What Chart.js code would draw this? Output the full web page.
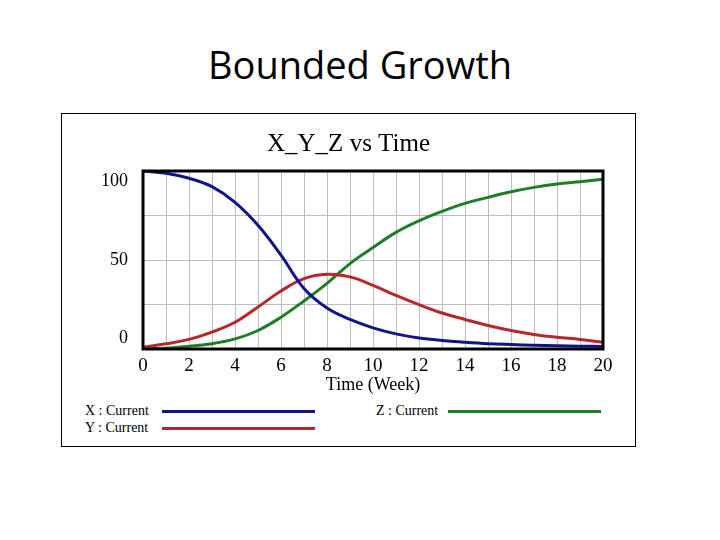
<!DOCTYPE html>
<html><head><meta charset="utf-8">
<script src="https://cdn.jsdelivr.net/npm/chart.js@4"></script>
<style>
body{margin:0;width:720px;height:540px;background:#fff;position:relative;overflow:hidden}
#slideTitle{position:absolute;left:0;top:45px;width:720px;text-align:center;font:38px/38px "Open Sans",sans-serif;color:#000}
#frame{position:absolute;left:61px;top:113px;width:575px;height:334px;border:1px solid #000;box-sizing:border-box}
#c{position:absolute;left:0;top:0}
.lg{position:absolute;font:14px/14px "Liberation Serif",serif;color:#000;white-space:nowrap}
.lgline{position:absolute;height:3px}
</style></head>
<body>
<div id="slideTitle">Bounded Growth</div>
<div id="frame"><canvas id="c" width="573" height="284"></canvas><div id="legend"></div></div>
<script>
// values
const times=[0,1,2,3,4,5,6,7,8,9,10,11,12,13,14,15,16,17,18,19,20];
const xCurrent=[100,98.7,95.9,91.2,82.4,69.5,52.7,34,23,16.6,11.9,8.5,6.2,4.8,3.8,3,2.5,2.1,1.8,1.6,1.4];
const yCurrent=[1,2.9,5.4,9.5,15,23.6,32.6,39.5,42,40.5,35.8,30.1,24.9,20.2,16.6,13.2,10.4,8.2,6.6,5.4,3.8];
const zCurrent=[0,0.4,1.5,3,5.7,10.4,17.9,27,36.9,48,57,65.5,72,77.3,81.8,85.2,88.3,90.8,92.7,94,95.3];
const seriesNames=['X : Current','Y : Current','Z : Current'];
const seriesColors=['#12128a','#b4282d','#1e7d28'];
const yLabelled=[0,50,100];
const chartTitle='X_Y_Z vs Time', xTitle='Time (Week)';

const serif='"Liberation Serif", "Times New Roman", serif';
const pts=a=>times.map((t,i)=>({x:t,y:a[i]}));
const frameBox={id:'frameBox',afterDatasetsDraw(ch){const {ctx,chartArea:a}=ch;ctx.save();ctx.strokeStyle='#000';ctx.lineWidth=3;ctx.strokeRect(a.left,a.top,a.right-a.left,a.bottom-a.top);ctx.restore();}};

new Chart(document.getElementById('c'),{
  type:'line',
  data:{datasets:[xCurrent,yCurrent,zCurrent].map((d,i)=>({label:seriesNames[i],data:pts(d),borderColor:seriesColors[i],backgroundColor:seriesColors[i],borderWidth:3,pointRadius:0,fill:false,tension:0.4}))},
  options:{
    responsive:false,animation:false,
    layout:{padding:{left:32,right:32,top:0,bottom:0}},
    plugins:{legend:{display:false},tooltip:{enabled:false},
      title:{display:true,text:chartTitle,color:'#000',font:{family:serif,size:25,weight:'normal',lineHeight:1.2},padding:{top:15,bottom:12}}},
    scales:{
      x:{type:'linear',min:0,max:20,border:{display:false},
        grid:{color:'#bdbdbd',lineWidth:1,drawTicks:false},
        ticks:{stepSize:1,autoSkip:false,maxRotation:0,padding:8,color:'#000',font:{family:serif,size:19,lineHeight:1},callback:v=>v%2===0?String(v):''},
        title:{display:true,text:xTitle,color:'#000',font:{family:serif,size:18,lineHeight:1},padding:{top:-8,bottom:4}}},
      y:{min:0,max:100,border:{display:false},afterFit(s){s.width=49;},
        grid:{color:'#bdbdbd',lineWidth:1,drawTicks:false},
        ticks:{stepSize:25,padding:15,color:'#000',font:{family:serif,size:18,lineHeight:1.15},
          callback:v=>{if(!yLabelled.includes(v))return '';if(v===100)return ['',String(v)];if(v===0)return [String(v),''];return String(v);}}}
    }
  },
  plugins:[frameBox]
});

// legend, Vensim style: name then a long line sample
const lgPos=[[23,100,290],[23,100,307],[314,386,290]];
const lg=document.getElementById('legend');
seriesNames.forEach((n,i)=>{
  const [tx,lx,ty]=lgPos[i];
  const s=document.createElement('div');s.className='lg';s.textContent=n;s.style.left=tx+'px';s.style.top=ty+'px';lg.appendChild(s);
  const l=document.createElement('div');l.className='lgline';l.style.left=lx+'px';l.style.top=(ty+5.5)+'px';l.style.width='153px';l.style.background=seriesColors[i];lg.appendChild(l);
});
</script>
</body></html>
